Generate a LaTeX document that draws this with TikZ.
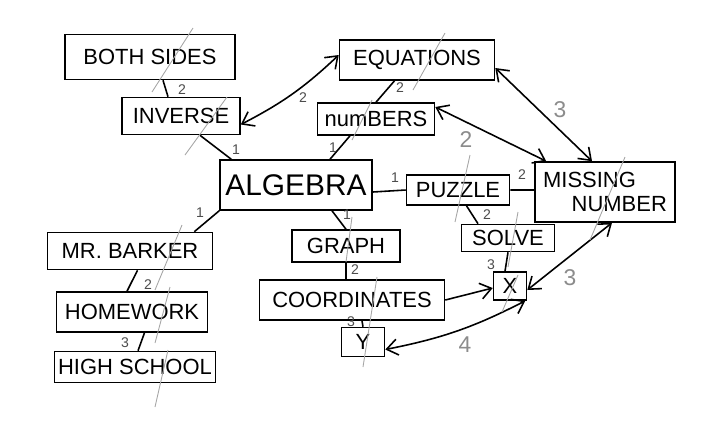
\documentclass[tikz,border=0pt]{standalone}
\usepackage{fontspec}
\setmainfont{Liberation Sans}
\usetikzlibrary{arrows.meta}

\begin{document}
\begin{tikzpicture}[x=0.02cm, y=-0.02cm, line width=0.9pt,
    >={Straight Barb[length=2.2mm, width=3.2mm]},
    main node/.style={draw, inner sep=2pt, font=\fontsize{12.5}{14}\selectfont, text=black},
    num/.style={inner sep=1pt, font=\fontsize{8}{9}\selectfont, text=black!70},
    big num/.style={inner sep=1pt, font=\fontsize{13}{14}\selectfont, text=black!45},
    slash/.style={draw=black!35, line width=0.5pt}]
    \useasboundingbox (0,0) rectangle (702,424);

    % concept central
    \node[main node, minimum width=3.04cm, minimum height=1cm, font=\fontsize{17}{19}\selectfont] (algebra) at (296,185) {ALGEBRA};

    % branche du haut
    \node[main node, minimum width=3.4cm, minimum height=0.9cm] (both) at (150,57) {BOTH SIDES};
    \node[main node, minimum width=2.36cm, minimum height=0.74cm] (inverse) at (181,116) {INVERSE};
    \node[main node, minimum width=3.1cm, minimum height=0.8cm] (equations) at (417,60) {EQUATIONS};
    \node[main node, minimum width=2.34cm, minimum height=0.64cm] (numbers) at (376,119) {numBERS};

    % branche de droite
    \node[main node, minimum width=2.06cm, minimum height=0.6cm] (puzzle) at (458,190) {PUZZLE};
    \node[main node, minimum width=2.8cm, minimum height=1.2cm, align=left] (missing) at (605,192) {MISSING\\\hspace*{1.3em}NUMBER};
    \node[main node, minimum width=1.86cm, minimum height=0.54cm] (solve) at (508,238) {SOLVE};
    \node[main node, minimum width=0.66cm, minimum height=0.56cm] (x) at (510,286) {X};

    % branche du milieu
    \node[main node, minimum width=2.16cm, minimum height=0.64cm] (graph) at (346,246) {GRAPH};
    \node[main node, minimum width=3.7cm, minimum height=0.8cm] (coord) at (352,300) {COORDINATES};
    \node[main node, minimum width=0.86cm, minimum height=0.58cm] (y) at (363,342) {Y};

    % branche de gauche
    \node[main node, minimum width=3.3cm, minimum height=0.74cm] (barker) at (130,251) {MR. BARKER};
    \node[main node, minimum width=3.02cm, minimum height=0.8cm] (homework) at (132,312) {HOMEWORK};
    \node[main node, minimum width=3.2cm, minimum height=0.62cm] (school) at (135,367) {HIGH SCHOOL};

    % liens simples
    \draw ([xshift=0.26cm]both.south) to ([xshift=-0.26cm]inverse.north);
    \draw ([xshift=0.38cm]inverse.south) to ([xshift=0.24cm]algebra.north west);
    \draw ([xshift=0.68cm]algebra.north) to ([xshift=-0.52cm]numbers.south);
    \draw (numbers.north) to ([xshift=-0.45cm]equations.south);
    \draw ([yshift=-0.14cm]algebra.east) to (puzzle.west);
    \draw (puzzle.east) to ([yshift=0.04cm]missing.west);
    \draw ([xshift=0.17cm]puzzle.south) to ([xshift=-0.6cm]solve.north);
    \draw (solve.south) to ([xshift=-0.1cm]x.north);
    \draw ([xshift=0.72cm]algebra.south) to (graph.north);
    \draw (graph.south) to ([xshift=-0.12cm]coord.north);
    \draw ([xshift=0.2cm]coord.south) to (y.north);
    \draw (algebra.south west) to ([xshift=-0.38cm]barker.north east);
    \draw ([xshift=0.15cm]barker.south) to ([xshift=-0.1cm]homework.north);
    \draw ([xshift=0.25cm]homework.south) to ([xshift=0.06cm]school.north);

    % fleches
    \draw[<->] ([yshift=0.1cm]equations.west) to[bend left=8] ([yshift=-0.17cm]inverse.east);
    \draw[<->] ([yshift=0.24cm]numbers.east) to ([xshift=0.24cm]missing.north west);
    \draw[<->] ([yshift=-0.16cm]equations.east) to ([xshift=-0.26cm]missing.north);
    \draw[<->] ([xshift=0.14cm]missing.south) to ([yshift=-0.08cm]x.east);
    \draw[->] (coord.east) to ([yshift=-0.04cm]x.west);
    \draw[<->] ([xshift=-0.04cm]x.south east) to[bend left=8] ([yshift=-0.15cm]y.east);

    % poids des liens
    \node[num] (w1) at (182,90) {2};
    \node[num] (w2) at (236,150) {1};
    \node[num] (w3) at (303,98) {2};
    \node[num] (w4) at (333,148) {1};
    \node[num] (w5) at (400,88) {2};
    \node[num] (w6) at (395,178) {1};
    \node[num] (w7) at (522,175) {2};
    \node[num] (w8) at (487,215) {2};
    \node[num] (w9) at (491,265) {3};
    \node[num] (w10) at (347,215) {1};
    \node[num] (w11) at (355,270) {2};
    \node[num] (w12) at (351,322) {3};
    \node[num] (w13) at (200,213) {1};
    \node[num] (w14) at (148,285) {2};
    \node[num] (w15) at (125,343) {3};
    \node[big num] (w16) at (466,140) {2};
    \node[big num] (w17) at (560,110) {3};
    \node[big num] (w18) at (570,278) {3};
    \node[big num] (w19) at (465,345) {4};

    % traits de correction
    \draw[slash] (193,28) to (152,92);
    \draw[slash] (227,97) to (185,155);
    \draw[slash] (445,33) to (413,90);
    \draw[slash] (372,100) to (352,140);
    \draw[slash] (470,155) to (455,222);
    \draw[slash] (625,157) to (590,240);
    \draw[slash] (518,212) to (508,267);
    \draw[slash] (518,275) to (502,312);
    \draw[slash] (352,217) to (346,262);
    \draw[slash] (377,277) to (363,367);
    \draw[slash] (182,225) to (155,290);
    \draw[slash] (170,287) to (155,343);
    \draw[slash] (168,350) to (155,407);
\end{tikzpicture}
\end{document}
